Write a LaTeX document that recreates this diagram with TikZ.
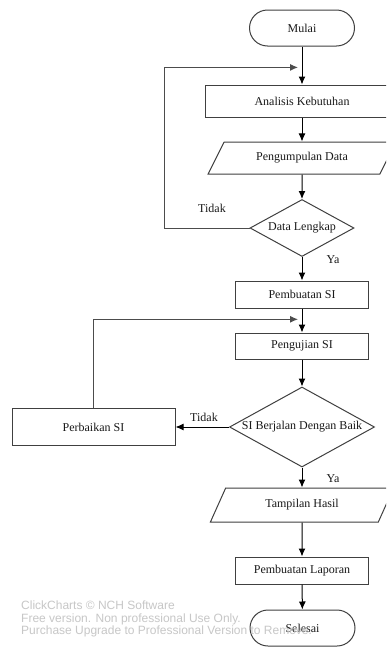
\documentclass[tikz,border=0pt]{standalone}
\usepackage{fontspec}
\setmainfont{Liberation Serif}
\newfontfamily\wmfont{Liberation Sans}
\usetikzlibrary{shapes.geometric,arrows.meta,calc}

\begin{document}
\begin{tikzpicture}[
    x=1pt, y=-1pt,
    font=\fontsize{12}{14}\selectfont,
    text=black!90,
    terminal/.style={draw=black!75, line width=1pt, rectangle, rounded corners=18pt,
        minimum width=105pt, minimum height=36pt, inner sep=0pt},
    box/.style={draw=black!75, line width=1pt, rectangle, inner sep=0pt},
    io/.style={draw=black!75, line width=1pt, trapezium, trapezium stretches=true, inner sep=0pt},
    decision/.style={draw=black!75, line width=1pt, diamond, inner sep=0pt},
    flow/.style={draw=black, line width=1pt, -{Latex[length=8pt,width=7pt]}},
    loopline/.style={draw=black!70, line width=1pt, -{Latex[length=8pt,width=7pt]}, shorten >=4pt},
    ]
\useasboundingbox (0,0) rectangle (386,648);
\clip (0,0) rectangle (386,648);
\fill[white] (0,0) rectangle (386,648);

\node[terminal] (mulai) at (302,28) {Mulai};
\node[box, minimum width=194pt, minimum height=32pt] (analisis) at (302,101) {Analisis Kebutuhan};
\node[io, minimum width=188pt, minimum height=32pt, trapezium left angle=49, trapezium right angle=131] (kumpul) at (302,158) {Pengumpulan Data};
\node[decision, minimum width=104pt, minimum height=57pt, label=center:Data Lengkap] (lengkap) at (302,228) {};
\node (tidak1) at (212,208) {Tidak};
\node (ya1) at (333,260) {Ya};
\node[box, minimum width=133pt, minimum height=27pt] (buat) at (302,294.5) {Pembuatan SI};
\node[box, minimum width=133pt, minimum height=26pt] (uji) at (302,346) {Pengujian SI};
\node[decision, minimum width=145pt, minimum height=80pt, label=center:SI Berjalan Dengan Baik] (jalan) at (302,427) {};
\node (tidak2) at (204,417) {Tidak};
\node (ya2) at (333,479) {Ya};
\node[box, minimum width=163pt, minimum height=37pt] (perbaikan) at (93.5,427) {Perbaikan SI};
\node[io, minimum width=184pt, minimum height=34pt, trapezium left angle=56, trapezium right angle=124] (tampil) at (302,505) {Tampilan Hasil};
\node[box, minimum width=133pt, minimum height=27pt] (laporan) at (302,570.5) {Pembuatan Laporan};
\node[terminal] (selesai) at (302.5,628) {Selesai};

% alur utama
\draw[flow] (mulai) -- (analisis);
\draw[flow] (analisis) -- (kumpul);
\draw[flow] (kumpul) -- (lengkap);
\draw[flow] (lengkap) -- (buat);
\draw[flow] (buat) -- (uji);
\draw[flow] (uji) -- (jalan);
\draw[flow] (jalan) -- (perbaikan);
\draw[flow] (jalan) -- (tampil);
\draw[flow] (tampil) -- (laporan);
\draw[flow] (laporan) -- (selesai);

% kembali
\coordinate (masuk1) at ($(mulai.south)!0.55!(analisis.north)$);
\coordinate (masuk2) at ($(buat.south)!0.45!(uji.north)$);
\draw[loopline] (lengkap.west) -- ++(-85,0) |- (masuk1);
\draw[loopline] (perbaikan.north) |- (masuk2);

\node[anchor=north west, align=left, inner sep=0pt, text=black!22,
    font=\wmfont\fontsize{12}{12.5}\selectfont] (wm) at (21,601)
    {ClickCharts © NCH Software\\Free version. Non professional Use Only.\\Purchase Upgrade to Professional Version to Remove.};
\end{tikzpicture}
\end{document}
